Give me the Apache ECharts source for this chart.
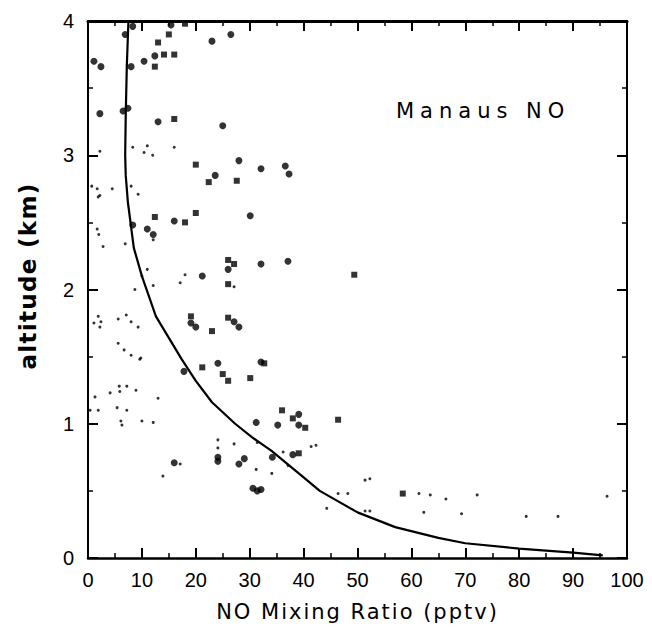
<!DOCTYPE html>
<html><head><meta charset="utf-8">
<script src="https://cdn.jsdelivr.net/npm/echarts@6/dist/echarts.min.js"></script>
<style>html,body{margin:0;padding:0;background:#fff}#c{width:652px;height:628px}</style>
</head><body><div id="c"></div>
<script>
// Large markers (squares)
const bigSquares = [
  [18.0,3.98],[15.0,3.90],[13.0,3.84],[12.4,3.66],[14.1,3.75],[16.0,3.75],[16.0,3.27],
  [20.0,2.93],[22.4,2.80],[27.6,2.81],[12.4,2.54],[18.0,2.50],[20.0,2.57],[26.0,2.22],[27.1,2.19],
  [26.0,2.04],[19.1,1.80],[23.0,1.69],[26.0,1.79],[21.2,1.42],[25.0,1.37],[26.0,1.32],[30.1,1.34],
  [36.0,1.10],[38.0,1.04],[40.3,0.97],[46.4,1.03],[39.1,0.78],[58.4,0.48],[49.4,2.11],[32.7,1.45]
];
// Large markers (round)
const bigCircles = [
  [1.1,3.70],[2.4,3.66],[6.9,3.90],[8.3,3.96],[15.4,3.97],[23.0,3.85],[26.5,3.90],[8.0,3.66],
  [10.4,3.70],[12.4,3.74],[2.2,3.31],[6.5,3.33],[7.4,3.35],[13.0,3.25],[25.0,3.22],[23.6,2.85],
  [28.0,2.96],[32.1,2.90],[36.6,2.92],[37.3,2.86],[16.0,2.51],[30.1,2.55],[8.3,2.48],[11.0,2.45],
  [12.1,2.41],[26.0,2.15],[32.1,2.19],[21.2,2.10],[37.1,2.21],[19.1,1.75],[20.0,1.72],[27.1,1.76],
  [28.0,1.72],[17.8,1.39],[24.1,1.45],[32.1,1.46],[31.2,1.01],[35.2,0.99],[39.1,1.07],[39.1,0.99],
  [34.2,0.75],[38.0,0.77],[29.0,0.74],[28.0,0.70],[24.1,0.75],[24.1,0.72],[16.0,0.71],
  [30.6,0.52],[31.4,0.50],[32.1,0.51]
];
// Small dots
const smallDots = [
  [0.7,2.77],[1.7,2.75],[4.5,2.75],[8.0,2.77],[2.2,2.70],[9.3,2.71],[1.9,2.69],[8.3,3.06],[2.2,3.03],
  [11.0,3.07],[10.4,3.02],[16.0,3.06],[12.0,3.0],
  [1.7,2.45],[2.0,2.41],[2.8,2.32],[6.9,2.34],[12.1,2.37],[11.0,2.15],[10.0,2.10],[8.7,2.00],
  [12.1,2.03],[18.0,2.11],[17.1,2.05],[27.1,2.02],[1.9,1.80],[1.1,1.75],[2.4,1.76],[2.2,1.72],
  [5.6,1.78],[7.1,1.81],[8.0,1.76],[9.3,1.72],[5.6,1.60],[6.7,1.55],[8.0,1.51],[9.8,1.49],[9.6,1.48],
  [1.3,1.20],[0.4,1.10],[1.9,1.10],[4.1,1.23],[5.8,1.28],[5.9,1.24],[7.2,1.28],[8.9,1.25],[13.0,1.19],
  [5.4,1.12],[7.2,1.10],[6.1,1.02],[6.3,0.99],[10.0,1.02],[12.1,1.01],[17.1,0.70],[13.9,0.61],
  [24.1,0.88],[24.1,0.82],[27.1,0.85],[31.2,0.66],[34.1,0.63],[31.4,0.86],[36.2,0.79],[41.4,0.83],
  [42.3,0.84],[37.1,0.69],[44.3,0.37],[46.4,0.48],[48.2,0.48],[51.4,0.58],[52.3,0.59],[51.4,0.35],
  [52.3,0.35],[61.4,0.48],[63.5,0.47],[62.3,0.34],[66.4,0.44],[69.3,0.33],[72.2,0.47],[81.3,0.31],
  [87.2,0.31],[96.3,0.46]
];
// Mean profile curve
const profile = [
  [95.5,0.02],[90,0.04],[80,0.07],[70,0.11],[65,0.15],[57,0.23],[50,0.34],[46.5,0.42],[43,0.5],
  [40,0.6],[34,0.8],[30.4,0.9],[27.3,1.0],[23,1.16],[20,1.32],[17.4,1.48],[12.6,1.80],[10,2.1],
  [8.5,2.31],[7.4,2.65],[7.0,2.85],[6.9,3.0],[7.0,3.3],[7.2,3.66],[7.5,4.0]
];
const xTicks = [0,10,20,30,40,50,60,70,80,90,100];
const yTicks = [0,1,2,3,4];
const xTitle = 'NO Mixing Ratio (pptv)';
const yTitle = 'altitude (km)';
const note = 'Manaus NO';

const numFont = 'Liberation Sans';
const txtFont = 'DejaVu Sans';
const chart = echarts.init(document.getElementById('c'), null, {renderer:'svg'});
function xa(pos, show){
  return {type:'value', position:pos, min:0, max:100, interval:10,
    axisLine:{show:true, onZero:false, lineStyle:{color:'#000', width: pos==='top'?3:2.5}},
    axisTick:{show:true, inside:true, length:10, lineStyle:{color:'#000',width:2}},
    minorTick:{show:true, splitNumber:2, length:5, lineStyle:{color:'#000',width:1.5}},
    splitLine:{show:false},
    axisLabel:{show:show, color:'#000', fontSize:20, fontFamily:numFont, margin:12,
      formatter:v=>xTicks.includes(v)?String(v):''},
    name: show?xTitle:'', nameLocation:'middle', nameGap:43,
    nameTextStyle:{color:'#000', fontSize:21, fontFamily:txtFont}};
}
function ya(pos, show){
  return {type:'value', position:pos, min:0, max:4, interval:1,
    axisLine:{show:true, onZero:false, lineStyle:{color:'#000', width:2}},
    axisTick:{show:true, inside:true, length:10, lineStyle:{color:'#000',width:2}},
    minorTick:{show:true, splitNumber:2, length:5, lineStyle:{color:'#000',width:1.5}},
    splitLine:{show:false},
    axisLabel:{show:show, color:'#000', fontSize:20, fontFamily:numFont, margin:14,
      formatter:v=>yTicks.includes(v)?String(v):''}};
}
chart.setOption({
  animation:false,
  backgroundColor:'#fff',
  grid:{left:88, right:25, top:21, bottom:70},
  xAxis:[xa('bottom',true), xa('top',false)],
  yAxis:[ya('left',true), ya('right',false)],
  graphic:[
    {type:'text', x:396, y:111,
      style:{text:note, fill:'#000', fontSize:21, fontFamily:txtFont, verticalAlign:'middle', align:'left'}},
    {type:'text', x:28, y:276, rotation:Math.PI/2,
      style:{text:yTitle, fill:'#000', fontSize:23, fontWeight:'bold', fontFamily:txtFont,
        verticalAlign:'middle', align:'center'}}
  ],
  series:[
    {type:'line', data:profile, showSymbol:false, smooth:false,
      lineStyle:{color:'#000', width:2.2}, z:3},
    {type:'scatter', data:bigSquares, symbol:'rect', symbolSize:6,
      itemStyle:{color:'#000'}},
    {type:'scatter', data:bigCircles, symbol:'circle', symbolSize:7,
      itemStyle:{color:'#000'}},
    {type:'scatter', data:smallDots, symbol:'circle', symbolSize:3,
      itemStyle:{color:'#000'}}
  ]
});
// letter spacing for the wide geometric lettering of the original
document.querySelectorAll('#c svg text').forEach(t=>{
  const s = t.textContent;
  if (s === note) t.style.letterSpacing = '6px';
  else if (s === xTitle) t.style.letterSpacing = '2px';
  else if (s === yTitle) t.style.letterSpacing = '1.3px';
});
</script></body></html>
